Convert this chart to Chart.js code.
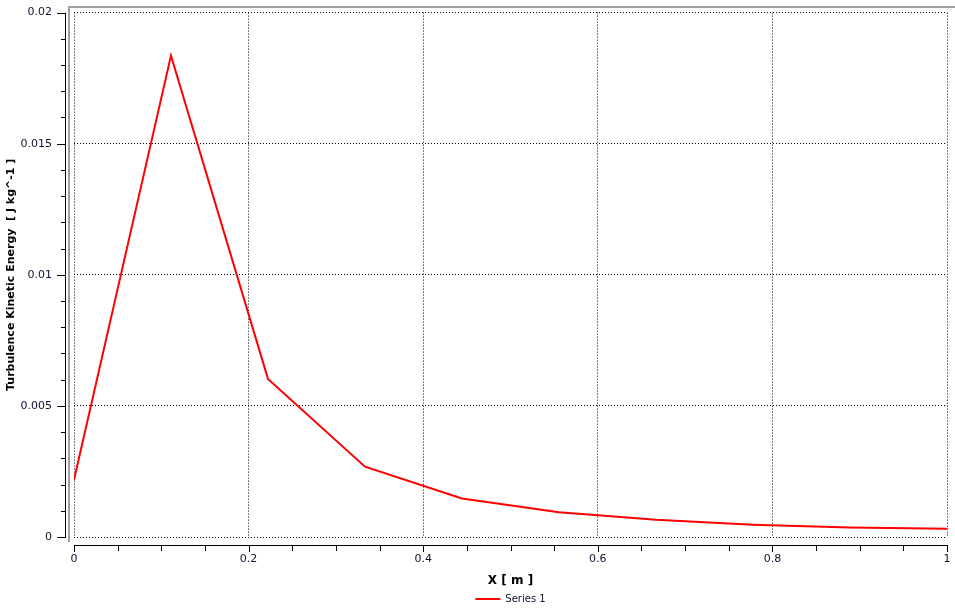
<!DOCTYPE html>
<html>
<head>
<meta charset="utf-8">
<script src="https://cdn.jsdelivr.net/npm/chart.js@4/dist/chart.umd.min.js"></script>
<style>
    html, body { margin: 0; padding: 0; background: #fff; }
    #wrap { width: 955px; height: 616px; }
</style>
</head>
<body>
<div id="wrap"><canvas id="tkeChart"></canvas></div>
<script>
// Valeurs
const positionsX = [0, 0.1111, 0.2222, 0.3333, 0.4444, 0.5556, 0.6667, 0.7778, 0.8889, 1.0];
const energieTurb = [0.00218, 0.01836, 0.00603, 0.00268, 0.00147, 0.00094, 0.00066, 0.00047, 0.00036, 0.00031];
const nomSerie = 'Series 1';
const titreX = 'X [ m ]';
const titreY = 'Turbulence Kinetic Energy  [ J kg^-1 ]';
const ticksX = [0, 0.2, 0.4, 0.6, 0.8, 1];
const ticksY = [0, 0.005, 0.01, 0.015, 0.02];
const mineursX = [0.05, 0.1, 0.15, 0.25, 0.3, 0.35, 0.45, 0.5, 0.55, 0.65, 0.7, 0.75, 0.85, 0.9, 0.95];
const mineursY = [0.001, 0.002, 0.003, 0.004, 0.006, 0.007, 0.008, 0.009, 0.011, 0.012, 0.013, 0.014, 0.016, 0.017, 0.018, 0.019];

const couleurTexte = '#111133';
const grilleOpts = {
    color: '#000',
    lineWidth: 1,
    drawTicks: true,
    tickColor: 'rgba(0,0,0,0)'
};
// en v4 le pointillé de la grille vient de border.dash
const bordOpts = { display: false, dash: [1, 2] };

// Cadre gris + axes décalés avec leurs graduations
const axesPlugin = {
    id: 'axesDecales',
    afterDraw(chart) {
        const ctx = chart.ctx;
        const area = chart.chartArea;
        const sx = chart.scales.x;
        const sy = chart.scales.y;
        ctx.save();
        ctx.fillStyle = '#a0a0a0';
        ctx.fillRect(68, 6, 887, 2);
        ctx.fillRect(68, 6, 2, 536);

        ctx.strokeStyle = '#000';
        ctx.lineWidth = 1;
        ctx.beginPath();
        // axe Y
        ctx.moveTo(65.5, area.top);
        ctx.lineTo(65.5, area.bottom);
        ticksY.forEach(v => {
            const y = Math.round(sy.getPixelForValue(v)) + 0.5;
            ctx.moveTo(57, y); ctx.lineTo(66, y);
        });
        mineursY.forEach(v => {
            const y = Math.round(sy.getPixelForValue(v)) + 0.5;
            ctx.moveTo(61, y); ctx.lineTo(66, y);
        });
        // axe X
        ctx.moveTo(area.left, 545.5);
        ctx.lineTo(area.right, 545.5);
        ticksX.forEach(v => {
            const x = Math.round(sx.getPixelForValue(v)) + 0.5;
            ctx.moveTo(x, 545); ctx.lineTo(x, 552);
        });
        mineursX.forEach(v => {
            const x = Math.round(sx.getPixelForValue(v)) + 0.5;
            ctx.moveTo(x, 545); ctx.lineTo(x, 551);
        });
        ctx.stroke();
        ctx.restore();
    }
};

function createChart() {
    const ctx = document.getElementById('tkeChart').getContext('2d');
    new Chart(ctx, {
        type: 'line',
        data: {
            datasets: [{
                label: nomSerie,
                data: positionsX.map((x, i) => ({ x: x, y: energieTurb[i] })),
                borderColor: '#ff0000',
                backgroundColor: '#ff0000',
                borderWidth: 2,
                pointRadius: 0,
                tension: 0,
                fill: false
            }]
        },
        options: {
            responsive: true,
            maintainAspectRatio: false,
            animation: false,
            layout: { padding: { top: 12, right: 8, left: 0, bottom: 2 } },
            plugins: {
                tooltip: { enabled: false },
                legend: {
                    position: 'bottom',
                    fullSize: false,
                    labels: {
                        usePointStyle: true,
                        pointStyle: 'line',
                        pointStyleWidth: 25,
                        boxHeight: 10,
                        color: couleurTexte,
                        font: { family: 'DejaVu Sans', size: 10 },
                        padding: 6
                    }
                }
            },
            scales: {
                x: {
                    type: 'linear',
                    min: 0,
                    max: 1,
                    afterBuildTicks: s => { s.ticks = ticksX.map(v => ({ value: v })); },
                    afterFit: s => { s.height = 51; },
                    grid: Object.assign({ tickLength: 14 }, grilleOpts),
                    border: bordOpts,
                    ticks: {
                        color: couleurTexte,
                        font: { family: 'DejaVu Sans', size: 11 },
                        padding: 2,
                        maxRotation: 0,
                        callback: v => String(v)
                    },
                    title: {
                        display: true,
                        text: titreX,
                        color: '#000',
                        font: { family: 'DejaVu Sans', size: 12, weight: 'bold' },
                        padding: { top: 3, bottom: 0 }
                    }
                },
                y: {
                    type: 'linear',
                    min: 0,
                    max: 0.02,
                    afterBuildTicks: s => { s.ticks = ticksY.map(v => ({ value: v })); },
                    afterFit: s => { s.width = 74; },
                    grid: Object.assign({ tickLength: 16 }, grilleOpts),
                    border: bordOpts,
                    ticks: {
                        color: couleurTexte,
                        font: { family: 'DejaVu Sans', size: 11 },
                        padding: 6,
                        callback: v => String(v)
                    },
                    title: {
                        display: true,
                        text: titreY,
                        color: '#000',
                        font: { family: 'DejaVu Sans', size: 11, weight: 'bold' },
                        padding: { top: 5, bottom: 2 }
                    }
                }
            }
        },
        plugins: [axesPlugin]
    });
}

document.addEventListener('DOMContentLoaded', createChart);
</script>
</body>
</html>
